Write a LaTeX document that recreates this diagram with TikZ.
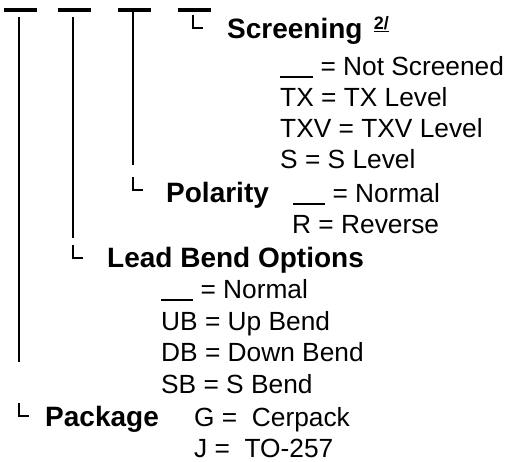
\documentclass[tikz,border=0pt]{standalone}
\usepackage{fontspec}
\setmainfont{Liberation Sans}
\newcommand{\blankopt}[1]{\rule[-3pt]{#1pt}{2.5pt}}
\begin{document}
\begin{tikzpicture}[
x=1pt, y=-1pt,
every node/.style={anchor=base west, inner sep=0pt, font=\fontsize{26.3}{30}\selectfont},
head/.style={font=\fontsize{28}{32}\selectfont\bfseries},
note/.style={font=\fontsize{18}{20}\selectfont\bfseries},
bar/.style={line width=4pt},
stem/.style={line width=2.2pt},
hook/.style={line width=1.6pt}
]
\useasboundingbox (0,0) rectangle (509,461);

\foreach \x in {4,58,118,178}
    \draw[bar] (\x,10) -- ++(33,0);

\coordinate (top1) at (19,17);
\coordinate (top2) at (73,17);
\coordinate (top3) at (133,12);
\coordinate (end1) at (19,362);
\coordinate (end2) at (73,238);
\coordinate (end3) at (133,165);
\draw[stem] (top1) -- (end1);
\draw[stem] (top2) -- (end2);
\draw[stem] (top3) -- (end3);

\coordinate (hook4) at (193,15);
\coordinate (hook3) at (133,177);
\coordinate (hook2) at (73,245);
\coordinate (hook1) at (19,403);
\foreach \h in {hook1,hook2,hook3,hook4}
    \draw[hook] (\h) |- ++(10,13);

\node (scr)[head] at (227,38) {Screening};
\node (scrnote)[note] at (scr.base east) [xshift=11pt, yshift=9pt] {\underline{2/}};
\node (scr0) at (280,75) {\blankopt{33}\ = Not Screened};
\node (scr1) at (280,106) {TX = TX Level};
\node (scr2) at (280,137) {TXV = TXV Level};
\node (scr3) at (280,168) {S = S Level};

\node (pol)[head] at (166,202) {Polarity};
\node (pol0) at (293,202) {\blankopt{32}\ = Normal};
\node (pol1) at (292,233) {R = Reverse};

\node (lead)[head] at (107,267) {Lead Bend Options};
\node (lead0) at (161,298) {\blankopt{32}\ = Normal};
\node (lead1) at (161,330) {UB = Up Bend};
\node (lead2) at (161,361) {DB = Down Bend};
\node (lead3) at (161,393) {SB = S Bend};

\node (pkg)[head] at (45,426) {Package};
\node (pkg0) at (194,426) {G =\ \ Cerpack};
\node (pkg1) at (194,457.5) {J =\ \ TO-257};

\end{tikzpicture}
\end{document}
